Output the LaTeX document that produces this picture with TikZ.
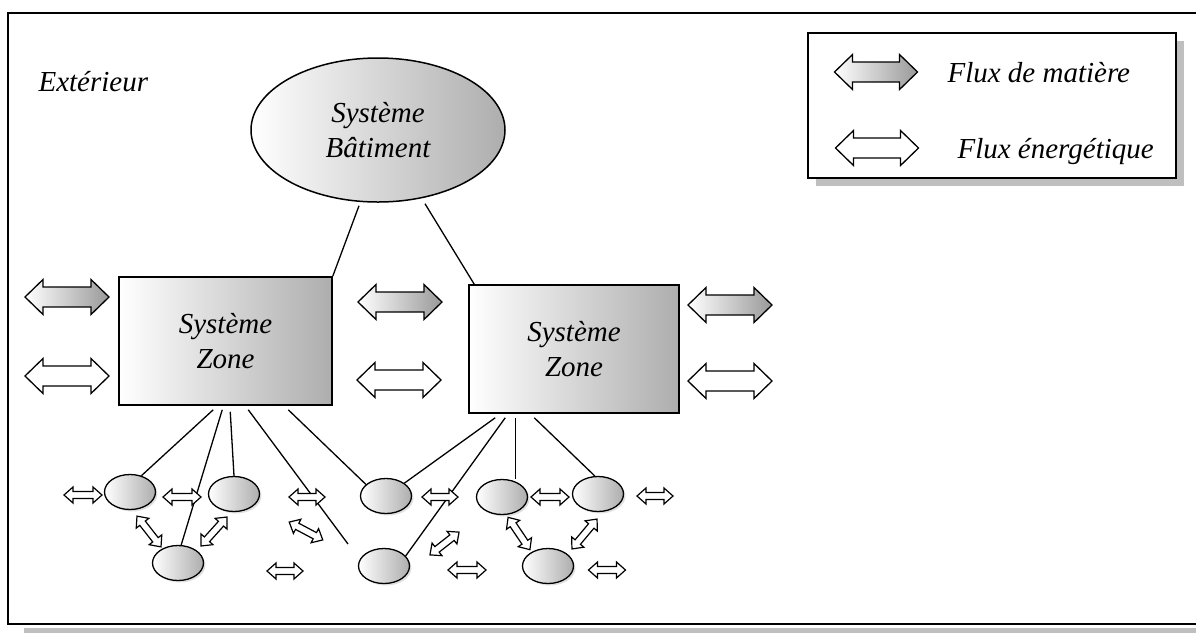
\documentclass[tikz,border=0pt]{standalone}
\usepackage{fontspec}
\setmainfont{Liberation Serif}
\usetikzlibrary{calc,shapes.geometric,shadows}
\begin{document}
\begin{tikzpicture}[x=1pt,y=-1pt]
\tikzset{
 txt/.style={font=\fontsize{29}{35}\selectfont\itshape},
 grad/.style={left color=white, right color=black!32},
 zonebox/.style={draw, line width=1.5pt, grad, minimum width=213pt, minimum height=128pt, inner sep=0pt, align=center, txt},
 bigell/.style={ellipse, draw, line width=1.5pt, grad, minimum width=254pt, minimum height=144pt, inner sep=0pt, align=center, txt},
 cell/.style={ellipse, draw, line width=1.3pt, grad, minimum width=51pt, minimum height=35pt, inner sep=0pt,
   drop shadow={shadow xshift=2pt, shadow yshift=-2pt, fill=black!12, opacity=1}},
 link/.style={line width=1.3pt},
 mat/.style={draw, line width=1.3pt, left color=white, right color=black!40},
 ene/.style={draw, line width=1.3pt, fill=white},
 sene/.style={draw, line width=1.2pt, fill=white},
 pics/dbl/.style n args={5}{code={
   \path[#5] (-#1/2,0) -- (-#1/2+#4,#2) -- (-#1/2+#4,#3) -- (#1/2-#4,#3) -- (#1/2-#4,#2) -- (#1/2,0)
     -- (#1/2-#4,-#2) -- (#1/2-#4,-#3) -- (-#1/2+#4,-#3) -- (-#1/2+#4,-#2) -- cycle;
 }},
}
\useasboundingbox (0,0) rectangle (1196,633);
% outer frame and its shadow
\fill[black!25] (24,628) rectangle (1196,633);
\draw[line width=1.6pt] (1196,13) -- (8,13) -- (8,624) -- (1196,624);

\node[txt, anchor=base west] (ext) at (35,91) {Extérieur};

% legend
\node[draw, fill=white, line width=1.3pt, minimum width=368pt, minimum height=145pt,
      drop shadow={shadow xshift=8pt, shadow yshift=-8pt, fill=black!25, opacity=1}] (leg) at (992,105.5) {};
\pic at (876,72) {dbl={83}{17.5}{10}{18}{mat}};
\pic at (877,148) {dbl={83}{17.5}{10}{18}{ene}};
\node[txt, anchor=base west] (t1) at (944,82) {Flux de matière};
\node[txt, anchor=base west] (t2) at (954,158) {Flux énergétique};

% main systems
\node[bigell] (bat) at (378,130) {Système\\Bâtiment};
\node[zonebox] (zl) at (225.5,341) {Système\\Zone};
\node[zonebox, minimum width=210pt] (zr) at (574,349) {Système\\Zone};

\draw[link] (zl.north east) -- ($(bat.south)+(-19,3)$);
\draw[link] ($(zr.north west)+(6,0)$) -- ($(bat.south)+(47,1)$);

% big flux arrows
\pic at (67,297) {dbl={84}{17.5}{10}{18}{mat}};
\pic at (67,376) {dbl={84}{17.5}{10}{18}{ene}};
\pic at (400,302) {dbl={84}{17.5}{10}{18}{mat}};
\pic at (399,380) {dbl={84}{17.5}{10}{18}{ene}};
\pic at (730,305) {dbl={84}{17.5}{10}{18}{mat}};
\pic at (730,381) {dbl={84}{17.5}{10}{18}{ene}};

% small cells
\node[cell] (e1) at (130,492) {};
\node[cell] (e2) at (234,494) {};
\node[cell] (e3) at (386,496) {};
\node[cell] (e4) at (502,497) {};
\node[cell] (e5) at (598,494) {};
\node[cell] (e6) at (178,563) {};
\node[cell] (e7) at (384,566) {};
\node[cell] (e8) at (548,566) {};
\coordinate (l4end) at (348,544);

% links from zones to cells
\draw[link] ($(zl.south west)+(95,4)$) -- (e1.55);
\draw[link] ($(zl.south west)+(104,4)$) -- (e6.80);
\draw[link] ($(zl.south west)+(112,6)$) -- (e2.north);
\draw[link] ($(zl.south west)+(130,4)$) -- (l4end);
\draw[link] ($(zl.south west)+(170,4)$) -- (e3.150);
\draw[link] ($(zr.south west)+(27,4)$) -- (e3.35);
\draw[link] ($(zr.south west)+(37,4)$) -- (e7.25);
\draw[link] ($(zr.south west)+(47,4)$) coordinate (r3) -- (r3 |- e4.north);
\draw[link] ($(zr.south west)+(66,4)$) -- (e5.100);

% small energy arrows
\pic at (83,495) {dbl={38}{8}{3.5}{9}{sene}};
\pic at (182,497) {dbl={38}{8}{3.5}{9}{sene}};
\pic[rotate=-52] at (149,531.5) {dbl={39}{8}{3.5}{9}{sene}};
\pic[rotate=48] at (214,531.5) {dbl={39}{8}{3.5}{9}{sene}};
\pic at (307,497) {dbl={36}{8}{3.5}{9}{sene}};
\pic[rotate=-28] at (306,531) {dbl={38}{8}{3.5}{9}{sene}};
\pic at (285,571) {dbl={36}{8}{3.5}{9}{sene}};
\pic at (440,497) {dbl={36}{8}{3.5}{9}{sene}};
\pic[rotate=38] at (444.5,543.5) {dbl={37}{8}{3.5}{9}{sene}};
\pic at (467,570) {dbl={38}{8}{3.5}{9}{sene}};
\pic at (550,497) {dbl={38}{8}{3.5}{9}{sene}};
\pic at (655,496) {dbl={36}{8}{3.5}{9}{sene}};
\pic[rotate=-56] at (519,533.5) {dbl={39}{8}{3.5}{9}{sene}};
\pic[rotate=50] at (584.5,534) {dbl={39}{8}{3.5}{9}{sene}};
\pic at (607,570) {dbl={37}{8}{3.5}{9}{sene}};
\end{tikzpicture}
\end{document}
